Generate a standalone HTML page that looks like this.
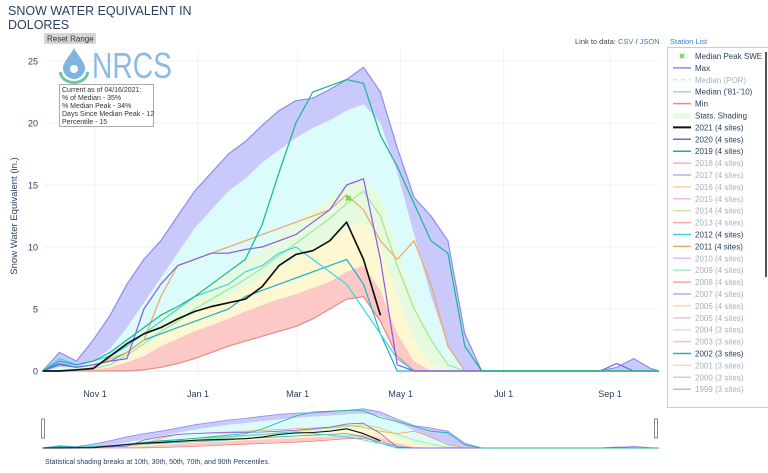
<!DOCTYPE html>
<html><head><meta charset="utf-8">
<style>
body{margin:0;background:#fff;font-family:"Liberation Sans","DejaVu Sans",sans-serif;}
svg text{font-family:"Liberation Sans","DejaVu Sans",sans-serif;}
</style></head>
<body>
<svg id="chart" width="768" height="468" viewBox="0 0 768 468" xmlns="http://www.w3.org/2000/svg">
<rect width="768" height="468" fill="#fff"/>
<text x="8" y="15" font-size="12.5" fill="#2a3f5f">SNOW WATER EQUIVALENT IN</text>
<text x="8" y="29" font-size="12.5" fill="#2a3f5f">DOLORES</text>
<g>
<rect x="44" y="33" width="52" height="11" fill="#d6d6d6"/>
<text x="47" y="41.5" font-size="8" fill="#333">Reset Range</text></g>
<text x="575" y="44" font-size="7.5" fill="#444">Link to data: <tspan fill="#3a7bd5">CSV</tspan> / <tspan fill="#3a7bd5">JSON</tspan></text>
<text x="670" y="44" font-size="7.5" fill="#3a7bd5">Station List</text>
<g id="grid"></g>
<g id="plot"></g>
<g>
<path d="M74,48 C70,56 63,62 63,68 A11,11 0 0 0 85,68 C85,62 78,56 74,48 Z" fill="#7fb3e0"/>
<circle cx="74" cy="69" r="4" fill="#fff"/>
<path d="M59,72 A15,12 0 0 0 89,72 L86,72 A12,9 0 0 1 62,72 Z" fill="#6cc7a4"/>
<text x="92" y="78" font-size="36" fill="#8cbbe4" font-weight="300" textLength="80" lengthAdjust="spacingAndGlyphs">NRCS</text>
</g>
<g>
<rect x="59.5" y="84.5" width="94" height="42" fill="#fff" stroke="#aaa"/>
<text font-size="7" fill="#333"><tspan x="62" y="92">Current as of 04/16/2021:</tspan><tspan x="62" y="100">% of Median - 35%</tspan><tspan x="62" y="108">% Median Peak - 34%</tspan><tspan x="62" y="116">Days Since Median Peak - 12</tspan><tspan x="62" y="124">Percentile - 15</tspan></text>
</g>
<text transform="translate(17,216) rotate(-90)" text-anchor="middle" font-size="9.5" fill="#2a3f5f">Snow Water Equivalent (in.)</text>
<g id="nav"></g>
<text x="45" y="464" font-size="7" fill="#2a3f5f">Statistical shading breaks at 10th, 30th, 50th, 70th, and 90th Percentiles.</text>
<g id="legend"></g>
</svg>
<script>
const yTicks=[0,5,10,15,20,25];
const xTickLabels=["Nov 1","Jan 1","Mar 1","May 1","Jul 1","Sep 1"];
const xTickDays=[31,92,151,212,273,336];
const days=[0,10,20,30,40,50,60,70,80,90,100,110,120,130,140,150,160,170,180,190,200,210,220,230,240,250,260,270,280,290,300,310,320,330,340,350,360,365];
const maxV=[0,1.5,0.8,2.5,4.5,7,9,10.5,12.5,14.5,16,17.5,18.5,19.8,21,21.8,22,22.7,23.5,24.5,22.5,18,14,12.5,10.5,3,0,0,0,0,0,0,0,0,0.3,1.0,0.2,0];
const p90=[0,0.3,0.3,0.8,1.8,3.5,5.5,7.5,9.5,11.5,13,14.5,15.5,16.8,17.8,18.8,19.6,20.2,21,21.5,20,16,11,6,2,0,0,0,0,0,0,0,0,0,0,0,0,0];
const p70=[0,0,0.1,0.3,0.9,1.9,3.1,4.3,5.3,6.3,7.1,8,9,10,11,12,13,14,15,15.5,14,10,6,2.5,0.5,0,0,0,0,0,0,0,0,0,0,0,0,0];
const p50=[0,0,0,0.2,0.5,1.2,2,3,3.8,4.5,5.2,6,6.8,7.5,8.3,9,9.7,10.5,11.5,12,10,6,2.5,0.5,0,0,0,0,0,0,0,0,0,0,0,0,0,0];
const p30=[0,0,0,0.1,0.3,0.7,1.2,2,2.6,3.2,3.7,4.2,4.8,5.3,5.8,6.2,6.7,7.2,8,8.5,6.5,3,0.8,0,0,0,0,0,0,0,0,0,0,0,0,0,0,0];
const minV=[0,0,0,0,0,0,0.1,0.3,0.6,1,1.5,2,2.4,2.8,3.2,3.6,4.2,5,5.8,6,4,1.2,0,0,0,0,0,0,0,0,0,0,0,0,0,0,0,0];
const medianV=[0,0,0,0.2,0.5,1.3,2.2,3.2,4,5,5.8,6.6,7.4,8.3,9.3,10.3,11.3,12.3,13.5,14.5,12.5,8.5,5,2.5,0.5,0,0,0,0,0,0,0,0,0,0,0,0,0];
const y2021=[0,0,0.1,0.2,1.2,2.2,3,3.5,4.2,4.8,5.2,5.5,5.8,6.8,8.5,9.4,9.7,10.5,12,9,4.5];
const y2019=[0,0.8,0.5,0.8,1.5,2.5,3.5,4.5,5.2,6,7,8,9,11.8,16,20,22.5,23,23.5,23.2,19,16.5,13.5,10.5,9.5,2,0,0,0,0,0,0,0,0,0,0,0,0];
const y2020=[0,0.6,0.3,0.5,0.8,1,5,7,8.5,9,9.5,9.5,9.8,10,10.5,11,12,13,15,15.5,9,0.5,0,0,0,0,0,0,0,0,0,0,0,0,0.6,0,0,0];
const y2011=[0,0,0,0.3,1,1.5,2.5,6,8.5,9,9.5,10,10.5,11,11.5,12,12.5,13,14.2,13,10.5,9,10.5,7,2,0,0,0,0,0,0,0,0,0,0,0,0,0];
const y2012=[0,1,0.5,0.8,1.2,2,3,4,5,6,6.5,7,8,8.5,9.5,10,9,8,7,5,3,1,0,0,0,0,0,0,0,0,0,0,0,0,0,0,0,0];
const y2002=[0,0.5,0.3,0.5,0.8,1.5,2.5,3,3.5,4,4.5,5,6,6.5,7,7.5,8,8.5,9,7,3,0,0,0,0,0,0,0,0,0,0,0,0,0,0,0,0,0];
const peakDay=[181];const peakVal=[13.9];

const NS="http://www.w3.org/2000/svg";
const X0=42.6,X1=659,Y0=371,Y1=61;
const xS=d=>X0+(X1-X0)*d/365;
const yS=v=>Y0-(Y0-Y1)*v/25;
const NY0=448,NY1=408;
const nyS=v=>NY0-(NY0-NY1)*v/25;
function mk(tag,attrs,parent){const e=document.createElementNS(NS,tag);for(const k in attrs)e.setAttribute(k,attrs[k]);parent.appendChild(e);return e;}
function linePath(arr,ys){return arr.map((v,i)=>(i?"L":"M")+xS(days[i]).toFixed(1)+","+ys(v).toFixed(1)).join("");}
function bandPath(lo,hi,ys){let s=hi.map((v,i)=>(i?"L":"M")+xS(days[i]).toFixed(1)+","+ys(v).toFixed(1)).join("");for(let i=lo.length-1;i>=0;i--)s+="L"+xS(days[i]).toFixed(1)+","+ys(lo[i]).toFixed(1);return s+"Z";}

const grid=document.getElementById("grid");
yTicks.forEach(t=>{
  const l=mk("line",{x1:44,x2:657,y1:yS(t),y2:yS(t),stroke:t===0?"#dfe3ee":"#eef0f8","stroke-width":1},grid);
  
  
  const tx=mk("text",{x:38,y:yS(t)+3.5,"text-anchor":"end","font-size":9,fill:"#2a3f5f"},grid);
  tx.textContent=t;
  
  
});
xTickDays.forEach((d,i)=>{
  const l=mk("line",{x1:xS(d),x2:xS(d),y1:50,y2:378,stroke:"#eef0f8","stroke-width":1},grid);
  
  
  const tx=mk("text",{x:xS(d),y:397,"text-anchor":"middle","font-size":9,fill:"#2a3f5f"},grid);
  tx.textContent=xTickLabels[i];
  
  
});

function drawAll(g,ys,sw){
  const bands=[[p90,maxV,"#c9c9fb"],[p70,p90,"#dcfbfb"],[p50,p70,"#e6fae0"],[p30,p50,"#fdf8d2"],[minV,p30,"#fcc9c6"]];
  bands.forEach(b=>{const p=mk("path",{d:bandPath(b[0],b[1],ys),fill:b[2],stroke:"none"},g);
    
    });
  const lines=[[maxV,"#8c8cf2","max-line"],[minV,"#e48a86","min-line"],[medianV,"#9ee89a","median-line"],[y2002,"#1ab4c8","series-2002"],[y2012,"#3bd3e6","series-2012"],[y2011,"#f0a860","series-2011"],[y2020,"#8a5ae6","series-2020"],[y2019,"#14b890","series-2019"],[y2021,"#111111","series-2021"]];
  lines.forEach(l=>{const p=mk("path",{d:linePath(l[0],ys),fill:"none",stroke:l[1],"stroke-width":l[2]==="series-2021"?sw*1.4:sw,"stroke-linejoin":"round"},g);
    
    });
}
const plot=document.getElementById("plot");
drawAll(plot,yS,1.2);
peakDay.forEach((d,i)=>{const t=mk("text",{x:xS(d),y:yS(peakVal[i])+3,"text-anchor":"middle","font-size":9,fill:"#5ce04a","font-weight":"bold"},plot);
  t.textContent="✖";
  
  });

const nav=document.getElementById("nav");
mk("rect",{x:44,y:405,width:613,height:45,fill:"#fff"},nav);
drawAll(nav,nyS,0.8);
[43,656].forEach(x=>{const h=mk("rect",{x:x-1.5,y:419,width:3,height:19,fill:"#fff",stroke:"#888","stroke-width":1},nav);
  
  });

const legend=document.getElementById("legend");
mk("rect",{x:667.5,y:47.5,width:101,height:360,fill:"#fff",stroke:"#ccc"},legend);
mk("rect",{x:765,y:52,width:2,height:225,fill:"#555"},legend);
const items=[["Median Peak SWE","#5ce04a",1,"x"],["Max","#8c8cf2",1],["Median (POR)","#c8f0c8",0,"dash"],["Median ('81-'10)","#9ee89a",1],["Min","#e48a86",1],["Stats. Shading","#e6fae0",1,"box"],["2021 (4 sites)","#111",1],["2020 (4 sites)","#8a5ae6",1],["2019 (4 sites)","#14b890",1],["2018 (4 sites)","#f8b0b0",0],["2017 (4 sites)","#b0b0f8",0],["2016 (4 sites)","#f8d0a0",0],["2015 (4 sites)","#f8b8f0",0],["2014 (4 sites)","#c0eca8",0],["2013 (4 sites)","#f8a8a8",0],["2012 (4 sites)","#3bd3e6",1],["2011 (4 sites)","#f0a860",1],["2010 (4 sites)","#d8c0f8",0],["2009 (4 sites)","#b0e8c8",0],["2008 (4 sites)","#f8a8a0",0],["2007 (4 sites)","#a8b0f0",0],["2006 (4 sites)","#f8dcb0",0],["2005 (4 sites)","#f0c0f0",0],["2004 (3 sites)","#d0ecc0",0],["2003 (3 sites)","#f8c0c0",0],["2002 (3 sites)","#1ab4c8",1],["2001 (3 sites)","#f8d8c0",0],["2000 (3 sites)","#d8c0f8",0],["1999 (3 sites)","#c0c0c0",0]];
items.forEach((it,i)=>{
  const y=56+i*11.9;
  if(y>400)return;
  const g=mk("g",{},legend);
  
  
  if(it[3]==="x"){const t=mk("text",{x:682,y:y+3,"text-anchor":"middle","font-size":8,fill:it[1],"font-weight":"bold"},g);t.textContent="✖";}
  else if(it[3]==="box"){mk("rect",{x:673,y:y-2,width:18,height:5,fill:it[1]},g);}
  else{mk("line",{x1:673,x2:691,y1:y,y2:y,stroke:it[1],"stroke-width":it[0].startsWith("2021")?2:1.5,"stroke-dasharray":it[3]==="dash"?"4,4":""},g);}
  const t=mk("text",{x:695,y:y+3,"font-size":8,fill:it[2]?"#2a3f5f":"#a8b0bc"},g);
  t.textContent=it[0];
});
</script>
</body></html>
